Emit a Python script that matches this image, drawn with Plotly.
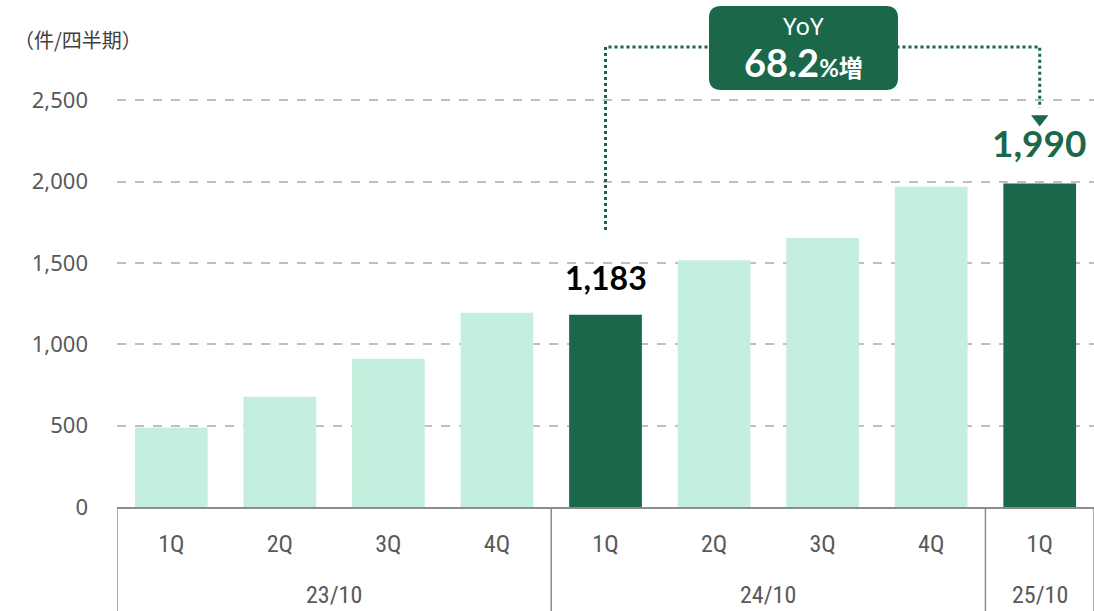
import plotly.graph_objects as go

# ---------------- data ----------------
quarters = ["1Q", "2Q", "3Q", "4Q", "1Q", "2Q", "3Q", "4Q", "1Q"]
fiscal_years = ["23/10"] * 4 + ["24/10"] * 4 + ["25/10"]
values = [488, 678, 912, 1195, 1183, 1518, 1655, 1970, 1990]
highlight = [False, False, False, False, True, False, False, False, True]
label_colors = {4: "#000000", 8: "#1B674A"}
label_sizes = {4: 32, 8: 37}
y_ticks = [0, 500, 1000, 1500, 2000, 2500]
unit_label = "（件/四半期）"
yoy_title = "YoY"
yoy_value = "68.2"
yoy_suffix = "%増"

# ---------------- style ----------------
LIGHT = "#C4EEDD"
DARK = "#1B674A"
GRAY = "#595959"
LINE_GRAY = "#8C8C8C"
GRID = "#BFBFBF"
W, H = 1094, 611
L, T, B = 117, 0, 104
PW, PH = W - L, H - T - B
YMAX = 3118
N = len(values)
xs = list(range(N))
NARROW = "Liberation Sans Narrow, Roboto Condensed, Noto Sans"


def px2x(px):
    return (px - L) / PW * N - 0.5


def py2y(py):
    return (T + PH - py) / PH * YMAX


fig = go.Figure()
fig.add_trace(go.Bar(
    x=xs, y=values,
    marker=dict(color=[DARK if h else LIGHT for h in highlight], line=dict(width=0)),
    width=0.67, hoverinfo="skip", showlegend=False,
))

shapes = []
annotations = []

# group dividers and labels
bounds = [0]
for i in range(1, N):
    if fiscal_years[i] != fiscal_years[i - 1]:
        bounds.append(i)
bounds.append(N)
for b in bounds:
    shapes.append(dict(type="line", xref="x", yref="paper", x0=b - 0.5, x1=b - 0.5,
                       y0=0, y1=-B / PH - 0.05, line=dict(color=LINE_GRAY, width=1.5)))
for s, e in zip(bounds[:-1], bounds[1:]):
    annotations.append(dict(x=(s + e - 1) / 2, y=0, xref="x", yref="paper", yshift=-88,
                            text=fiscal_years[s], showarrow=False, yanchor="middle",
                            font=dict(size=24, color=GRAY, family=NARROW)))

# data labels
for i, v in enumerate(values):
    if highlight[i]:
        annotations.append(dict(x=i, y=v, xref="x", yref="y", yanchor="bottom", yshift=16,
                                text=f"<b>{v:,}</b>", showarrow=False,
                                font=dict(size=label_sizes[i], color=label_colors[i], family="Lato")))

# YoY connector
hi = [i for i, h in enumerate(highlight) if h]
x_a, x_b = hi[0], hi[-1]
y_start, y_top, y_end = py2y(230), py2y(47), py2y(108)
shapes.append(dict(type="path", xref="x", yref="y",
                   path=f"M {x_a},{y_start} L {x_a},{y_top} L {x_b},{y_top} L {x_b},{y_end}",
                   line=dict(color=DARK, width=3, dash="dot")))
fig.add_trace(go.Scatter(x=[x_b], y=[py2y(119)], mode="markers",
                         marker=dict(symbol="triangle-down", size=15, color=DARK),
                         hoverinfo="skip", showlegend=False, cliponaxis=False))

# YoY box (rounded)
bx0, bx1, by0, by1 = px2x(709), px2x(898), py2y(90), py2y(6)
rx, ry = 12 / PW * N, 12 / PH * YMAX
path = (f"M {bx0+rx},{by0} L {bx1-rx},{by0} Q {bx1},{by0} {bx1},{by0+ry} "
        f"L {bx1},{by1-ry} Q {bx1},{by1} {bx1-rx},{by1} L {bx0+rx},{by1} "
        f"Q {bx0},{by1} {bx0},{by1-ry} L {bx0},{by0+ry} Q {bx0},{by0} {bx0+rx},{by0} Z")
shapes.append(dict(type="path", xref="x", yref="y", path=path,
                   fillcolor=DARK, line=dict(width=0), layer="above"))
bxc = (bx0 + bx1) / 2
annotations.append(dict(x=bxc, y=py2y(25), xref="x", yref="y", text=yoy_title, showarrow=False,
                        font=dict(size=24, color="white", family="Noto Sans"), yanchor="middle"))
annotations.append(dict(x=bxc, y=py2y(62), xref="x", yref="y",
                        text=f"<b>{yoy_value}<span style='font-size:24px'>{yoy_suffix}</span></b>",
                        showarrow=False, yanchor="middle",
                        font=dict(size=38, color="white", family="Lato, Noto Sans CJK JP")))

# unit label
annotations.append(dict(x=(12 - L) / PW, y=py2y(40) / YMAX, xref="paper", yref="paper",
                        text=unit_label, showarrow=False, xanchor="left", yanchor="middle",
                        font=dict(size=20, color="#404040", family="Noto Sans CJK JP")))

fig.update_layout(
    width=W, height=H,
    margin=dict(l=L, r=0, t=T, b=B, pad=0),
    plot_bgcolor="white", paper_bgcolor="white",
    shapes=shapes, annotations=annotations,
    xaxis=dict(range=[-0.5, N - 0.5], tickvals=xs, ticktext=quarters, showgrid=False,
               showline=True, linecolor=LINE_GRAY, linewidth=2, ticks="",
               ticklabelstandoff=14, zeroline=False,
               tickfont=dict(size=24, color=GRAY, family=NARROW)),
    yaxis=dict(range=[0, YMAX], tickvals=y_ticks, tickformat=",", showgrid=True,
               gridcolor=GRID, griddash="dash", gridwidth=2, zeroline=False,
               showline=False, ticks="", ticklabelstandoff=28,
               tickfont=dict(size=22, color=GRAY, family="Noto Sans")),
    bargap=0.33,
)

fig.write_html("out.html", config={"displayModeBar": False},
               post_script="document.body.style.margin='0';")
